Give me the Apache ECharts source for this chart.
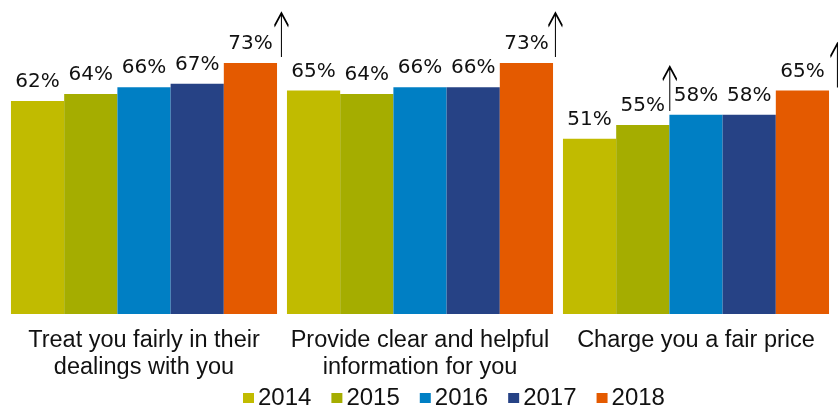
<!DOCTYPE html>
<html>
<head>
<meta charset="utf-8">
<style>
  html, body { margin: 0; padding: 0; background: #fff; }
  #chart { width: 838px; height: 405px; }
</style>
<script src="https://cdn.jsdelivr.net/npm/echarts@6/dist/echarts.min.js"></script>
</head>
<body>
<div id="chart"></div>
<script>
const categories = [
  'Treat you fairly in their\ndealings with you',
  'Provide clear and helpful\ninformation for you',
  'Charge you a fair price'
];
const years = ['2014', '2015', '2016', '2017', '2018'];
const values2014 = [62, 65, 51];
const values2015 = [64, 64, 55];
const values2016 = [66, 66, 58];
const values2017 = [67, 66, 58];
const values2018 = [73, 73, 65];
const colors = ['#c1bb00', '#a5ad00', '#007fc4', '#264285', '#e45a00'];

// significant increase markers: [series index, category index, x offset, y offset]
const arrows = [
  [4, 0, 31, -28],
  [4, 1, 29, -28],
  [1, 2, 27, -36],
  [4, 2, 35, -25]
];

const arrowPath = 'path://M7,0 L7,44 M0,13 L7,0 L14,13';
const seriesValues = [values2014, values2015, values2016, values2017, values2018];

const chart = echarts.init(document.getElementById('chart'), null, { renderer: 'canvas' });

chart.setOption({
  animation: false,
  backgroundColor: '#ffffff',
  color: colors,
  grid: { left: 6, right: 4, top: 39, bottom: 91 },
  legend: {
    left: 238,
    top: 381,
    itemWidth: 11,
    itemHeight: 10,
    itemGap: 20,
    icon: 'rect',
    textStyle: { fontFamily: 'Liberation Sans, Arial', fontSize: 24, color: '#111', padding: [0, 0, 0, -1] },
    data: years
  },
  xAxis: {
    type: 'category',
    data: categories,
    axisLine: { show: false },
    axisTick: { show: false },
    axisLabel: {
      interval: 0,
      margin: 13,
      fontFamily: 'Liberation Sans, Arial',
      fontSize: 23.5,
      lineHeight: 27,
      color: '#111'
    }
  },
  yAxis: { type: 'value', min: 0, max: 80, show: false },
  series: years.map((year, i) => ({
    type: 'bar',
    name: year,
    data: seriesValues[i],
    barGap: '0%',
    barCategoryGap: '3.6%',
    label: {
      show: true,
      position: 'top',
      distance: 9,
      formatter: '{c}%',
      fontFamily: 'DejaVu Sans',
      fontSize: 20,
      color: '#111'
    },
    markPoint: {
      silent: true,
      symbol: arrowPath,
      symbolSize: [14, 44],
      label: { show: false },
      itemStyle: { color: 'transparent', borderColor: '#000', borderWidth: 1.8 },
      data: arrows
        .filter((a) => a[0] === i)
        .map((a) => ({
          coord: [a[1], seriesValues[i][a[1]]],
          symbolOffset: [a[2], a[3]]
        }))
    }
  }))
});
</script>
</body>
</html>
